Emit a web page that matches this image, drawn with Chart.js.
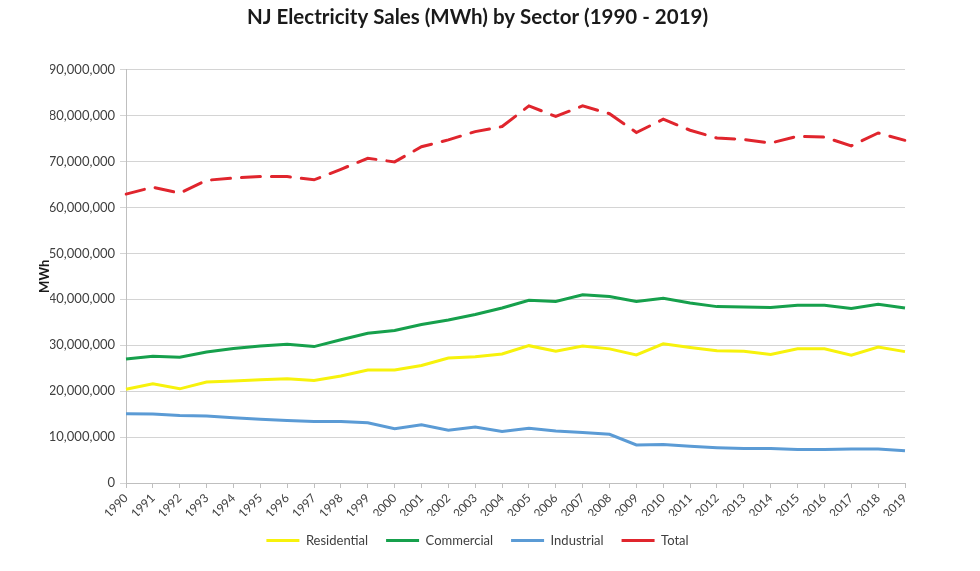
<!DOCTYPE html>
<html>
<head>
<meta charset="utf-8">
<title>NJ Electricity Sales by Sector</title>
<script src="https://cdn.jsdelivr.net/npm/chart.js@4.4.1/dist/chart.umd.min.js"></script>
<style>
  html, body { margin: 0; padding: 0; background: #ffffff; }
  #wrap { width: 980px; height: 571px; }
</style>
</head>
<body>
<div id="wrap"><canvas id="salesChart" width="980" height="571"></canvas></div>
<script>
// ======================================================================
// Daten (MWh)
// ======================================================================
const years = ["1990", "1991", "1992", "1993", "1994", "1995", "1996", "1997", "1998", "1999",
  "2000", "2001", "2002", "2003", "2004", "2005", "2006", "2007", "2008", "2009",
  "2010", "2011", "2012", "2013", "2014", "2015", "2016", "2017", "2018", "2019"];

const residential = [20400000, 21600000, 20500000, 22000000, 22200000, 22500000, 22700000, 22300000, 23300000, 24600000,
  24600000, 25600000, 27200000, 27500000, 28100000, 29900000, 28700000, 29800000, 29200000, 27900000,
  30300000, 29500000, 28800000, 28700000, 28000000, 29200000, 29200000, 27800000, 29600000, 28600000];

const commercial = [27000000, 27600000, 27400000, 28500000, 29300000, 29800000, 30200000, 29700000, 31200000, 32600000,
  33200000, 34500000, 35500000, 36700000, 38100000, 39800000, 39500000, 41000000, 40600000, 39500000,
  40200000, 39200000, 38400000, 38300000, 38200000, 38700000, 38700000, 38000000, 38900000, 38100000];

const industrial = [15100000, 15000000, 14700000, 14600000, 14200000, 13900000, 13600000, 13400000, 13400000, 13100000,
  11800000, 12700000, 11500000, 12200000, 11200000, 11900000, 11300000, 11000000, 10600000, 8300000,
  8400000, 8000000, 7700000, 7500000, 7500000, 7300000, 7300000, 7400000, 7400000, 7000000];

const total = [62900000, 64400000, 63100000, 65900000, 66400000, 66700000, 66700000, 66000000, 68300000, 70700000,
  69900000, 73200000, 74700000, 76500000, 77600000, 82100000, 79800000, 82100000, 80400000, 76300000,
  79200000, 76800000, 75100000, 74800000, 74000000, 75500000, 75300000, 73400000, 76200000, 74600000];

// Y-Achse: 0 bis 90 Mio. in 10-Mio.-Schritten
const yMin = 0;
const yMax = 90000000;
const yStep = 10000000;

// ======================================================================
// Farben
// ======================================================================
const seriesColors = {
  residential: "#f7f20c",
  commercial: "#16a04c",
  industrial: "#5b9bd5",
  total: "#e0252d"
};

Chart.defaults.font.family = "Lato, 'Open Sans', sans-serif";
Chart.defaults.color = "#595959";

function lineDataset(label, data, color, extra) {
  return Object.assign({
    label: label,
    data: data,
    borderColor: color,
    backgroundColor: color,
    borderWidth: 3,
    pointRadius: 0,
    pointHoverRadius: 0,
    tension: 0,
    fill: false
  }, extra || {});
}

// ======================================================================
// Diagramm erstellen
// ======================================================================
function createSalesChart() {
  const ctx = document.getElementById("salesChart").getContext("2d");

  const datasets = [
    lineDataset("Residential", residential, seriesColors.residential),
    lineDataset("Commercial", commercial, seriesColors.commercial),
    lineDataset("Industrial", industrial, seriesColors.industrial),
    lineDataset("Total", total, seriesColors.total, { borderDash: [19, 11], borderCapStyle: "round" })
  ];

  return new Chart(ctx, {
    type: "line",
    data: { labels: years, datasets },
    options: {
      responsive: false,
      animation: false,
      devicePixelRatio: 1,
      layout: { padding: { left: 50, right: 75, top: 0, bottom: 14 } },
      scales: {
        x: {
          type: "category",
          offset: false,
          grid: { drawOnChartArea: false, drawTicks: true, tickLength: 5, color: "#bfbfbf" },
          border: { display: true, color: "#bfbfbf" },
          ticks: {
            autoSkip: false,
            minRotation: 45,
            maxRotation: 45,
            padding: 3,
            color: "#404040",
            font: { size: 12 }
          },
          afterFit: (scale) => { scale.height = 33; }
        },
        y: {
          min: yMin,
          max: yMax,
          grid: { color: "#d4d4d4", tickLength: 6 },
          border: { display: true, color: "#bfbfbf" },
          ticks: {
            stepSize: yStep,
            padding: 5,
            color: "#404040",
            font: { size: 13 },
            callback: (value) => value.toLocaleString("en-US")
          },
          title: {
            display: true,
            text: "MWh",
            color: "#1a1a1a",
            font: { size: 13, weight: "bold" },
            padding: { top: -13, bottom: 0 }
          },
          afterFit: (scale) => { scale.width = 76; }
        }
      },
      plugins: {
        title: {
          display: true,
          text: "NJ Electricity Sales (MWh) by Sector (1990 - 2019)",
          color: "#1a1a1a",
          font: { size: 20.5, weight: "bold" },
          padding: { top: 5, bottom: 40 }
        },
        legend: {
          display: true,
          position: "bottom",
          labels: {
            boxWidth: 33,
            boxHeight: 3,
            padding: 18,
            color: "#404040",
            font: { size: 13 },
            // Legende ohne Strichelung (wie in der Vorlage)
            generateLabels: (chart) =>
              Chart.defaults.plugins.legend.labels.generateLabels(chart).map(item =>
                Object.assign(item, { lineDash: [], lineWidth: 0 }))
          }
        },
        tooltip: { enabled: false }
      }
    }
  });
}

createSalesChart();
</script>
</body>
</html>
